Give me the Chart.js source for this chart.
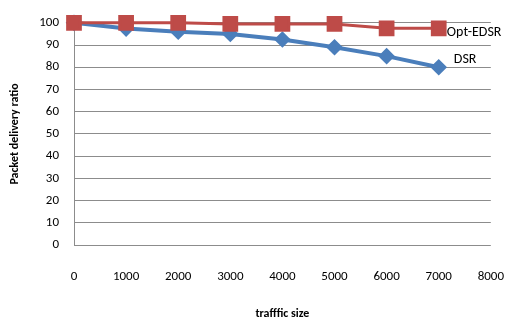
<!DOCTYPE html>
<html lang="en">
<head>
    <meta charset="UTF-8">
    <title>Packet delivery ratio vs traffic size</title>
    <script src="https://cdn.jsdelivr.net/npm/chart.js"></script>
    <style>
        html, body {
            margin: 0;
            padding: 0;
            background: #ffffff;
        }
        .chart-container {
            width: 528px;
            height: 327px;
        }
    </style>
</head>
<body>

<div class="chart-container">
    <canvas id="pdrChart"></canvas>
</div>

<script>
    const trafficSizes = [0, 1000, 2000, 3000, 4000, 5000, 6000, 7000];
    const optEdsrValues = [100, 100, 100, 99.5, 99.5, 99.5, 97.5, 97.5];
    const dsrValues = [100, 97.4, 96, 95, 92.5, 89, 85, 80];
    const seriesNames = ['Opt-EDSR', 'DSR'];

    const toPoints = (values) => values.map((v, i) => ({ x: trafficSizes[i], y: v }));

    const tickFont = { family: 'Carlito, Lato, sans-serif', size: 13 };
    const titleFont = { family: 'Carlito, Lato, sans-serif', size: 12, weight: 'bold' };

    // series names written next to the line ends, like the original
    const endLabels = {
        id: 'endLabels',
        afterDatasetsDraw(chart) {
            const { ctx, chartArea } = chart;
            ctx.save();
            ctx.font = '14px Carlito, Lato, sans-serif';
            ctx.fillStyle = '#000000';
            ctx.textBaseline = 'middle';
            ctx.textAlign = 'left';
            ctx.fillText(seriesNames[0], chartArea.right - 44, chartArea.top + 10);
            ctx.fillText(seriesNames[1], chartArea.right - 37, chartArea.top + 37);
            ctx.restore();
        }
    };

    const ctx = document.getElementById('pdrChart').getContext('2d');

    new Chart(ctx, {
        type: 'line',
        data: {
            datasets: [{
                label: seriesNames[0],
                data: toPoints(optEdsrValues),
                borderColor: '#be4b48',
                backgroundColor: '#be4b48',
                borderWidth: 3,
                pointStyle: 'rect',
                pointRadius: 9,
                pointHoverRadius: 9,
                tension: 0,
                order: 0,
                clip: false
            }, {
                label: seriesNames[1],
                data: toPoints(dsrValues),
                borderColor: '#4a7ebb',
                backgroundColor: '#4a7ebb',
                borderWidth: 4,
                pointStyle: 'rectRot',
                pointRadius: 5.5,
                pointHoverRadius: 5.5,
                tension: 0,
                order: 1,
                clip: false
            }]
        },
        options: {
            responsive: true,
            maintainAspectRatio: false,
            animation: false,
            layout: { padding: { top: 15, right: 23, left: 0, bottom: 0 } },
            plugins: {
                legend: { display: false },
                tooltip: { enabled: false }
            },
            scales: {
                x: {
                    type: 'linear',
                    min: 0,
                    max: 8000,
                    ticks: {
                        stepSize: 1000,
                        color: '#000000',
                        font: tickFont,
                        padding: 24,
                        maxRotation: 0,
                        callback: (value) => String(value)
                    },
                    grid: { display: false, drawTicks: false },
                    border: { display: false },
                    title: { display: true, text: 'trafffic size', color: '#000000', font: titleFont, padding: { top: 0, bottom: 6 } },
                    afterFit(scale) { scale.height = 82; }
                },
                y: {
                    min: 0,
                    max: 100,
                    ticks: { stepSize: 10, color: '#000000', font: tickFont, padding: 15 },
                    grid: { color: '#8c8c8c', lineWidth: 1, drawTicks: false },
                    border: { display: true, color: '#8c8c8c', width: 1 },
                    title: { display: true, text: 'Packet delivery ratio', color: '#000000', font: titleFont, padding: { top: 8, bottom: 0 } },
                    afterFit(scale) { scale.width = 74; }
                }
            }
        },
        plugins: [endLabels]
    });
</script>

</body>
</html>
